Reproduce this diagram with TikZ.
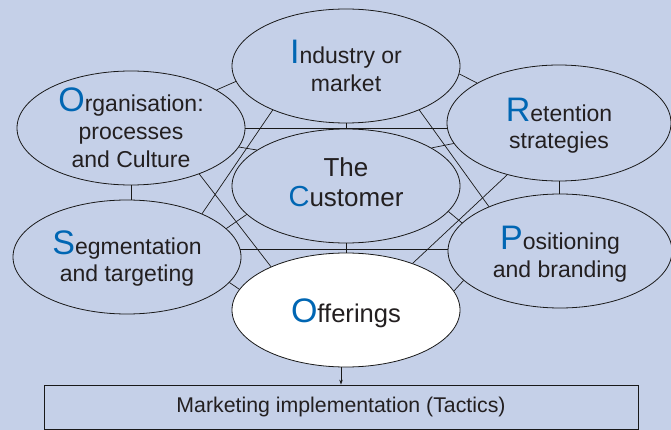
\documentclass[tikz,border=0pt]{standalone}
\usepackage{fontspec}
\setmainfont{Liberation Sans}
\usetikzlibrary{shapes.geometric,arrows.meta}
\definecolor{bgc}{RGB}{197,208,232}
\definecolor{initc}{RGB}{0,102,179}
\definecolor{txtc}{RGB}{35,31,32}
\newcommand\initial[2][34]{{\fontsize{#1}{#1}\selectfont\color{initc}#2}}
\begin{document}
\begin{tikzpicture}[x=1pt,y=-1pt,
  ell/.style={ellipse, draw=black!90, line width=0.8pt, fill=bgc,
    minimum width=228pt, minimum height=114pt, inner sep=0pt},
  txt/.style={align=center, text=txtc, font=\fontsize{23}{28}\selectfont, inner sep=0pt},
  lc/.style={line width=0.7pt, draw=black!90}]
\fill[bgc] (0,0) rectangle (671,430);
\useasboundingbox (0,0) rectangle (671,430);
% ellipses
\node[ell] (ind) at (346,66) {};
\node[ell] (org) at (131,128) {};
\node[ell, minimum width=224pt, minimum height=116pt] (ret) at (559,123) {};
\node[ell] (cust) at (346,186) {};
\node[ell] (seg) at (127,257) {};
\node[ell, minimum width=224pt] (pos) at (560,251) {};
\node[ell, fill=white] (off) at (346,310) {};
% texts
\node[txt] (ind-t) at (ind) {\initial{I}ndustry or\\market};
\node[txt] (org-t) at (org) {\initial{O}rganisation:\\processes\\and Culture};
\node[txt, font=\fontsize{23}{27}\selectfont, yshift=-2.5pt] (ret-t) at (ret) {\initial{R}etention\\strategies};
\node[txt, font=\fontsize{26}{30}\selectfont, yshift=3.5pt] (cust-t) at (cust) {The\\\initial[29]{C}ustomer};
\node[txt, font=\fontsize{23}{27}\selectfont, yshift=-1.5pt] (seg-t) at (seg) {\initial{S}egmentation\\and targeting};
\node[txt, yshift=-3pt] (pos-t) at (pos) {\initial{P}ositioning\\and branding};
\node[txt, font=\fontsize{25.6}{30}\selectfont, yshift=-3pt] (off-t) at (off) {\initial{O}fferings};
% box
\node[draw=black!90, line width=0.8pt, fill=bgc, minimum width=594pt, minimum height=44pt,
  inner sep=0pt, font=\fontsize{21.3}{25}\selectfont, text=txtc] (box) at (341,407)
  {Marketing implementation (Tactics)};
% connectors
\draw[lc] (org.24) -- (ind.188);
\draw[lc] (org.east) -- (org.east -| ret.west);
\draw[lc] (ind.south) -- (cust.north);
\draw[lc] (org.-10) -- (cust.158);
\draw[lc] (org.south) -- (org.south |- seg.north);
\draw[lc] (org.-34) -- (off.150);
\draw[lc] (ind.211) -- (seg.30);
\draw[lc] (ind.-4) -- (ret.154);
\draw[lc] (ind.-31) -- (pos.148);
\draw[lc] (cust.24) -- (ret.191);
\draw[lc] (ret.-135) -- (off.35);
\draw[lc] (ret.south) -- (ret.south |- pos.north);
\draw[lc] (seg.16) -- (cust.196);
\draw[lc] (cust.-14) -- (pos.164);
\draw[lc] (seg.4) -- (seg.4 -| pos.west);
\draw[lc] (cust.south) -- (off.north);
\draw[lc] (seg.-14) -- (off.169);
\draw[lc] (pos.197) -- (off.10);
\draw[lc, -{Stealth[length=5pt,width=3.5pt]}] (box.north |- off.south) -- (box.north);
\end{tikzpicture}
\end{document}
